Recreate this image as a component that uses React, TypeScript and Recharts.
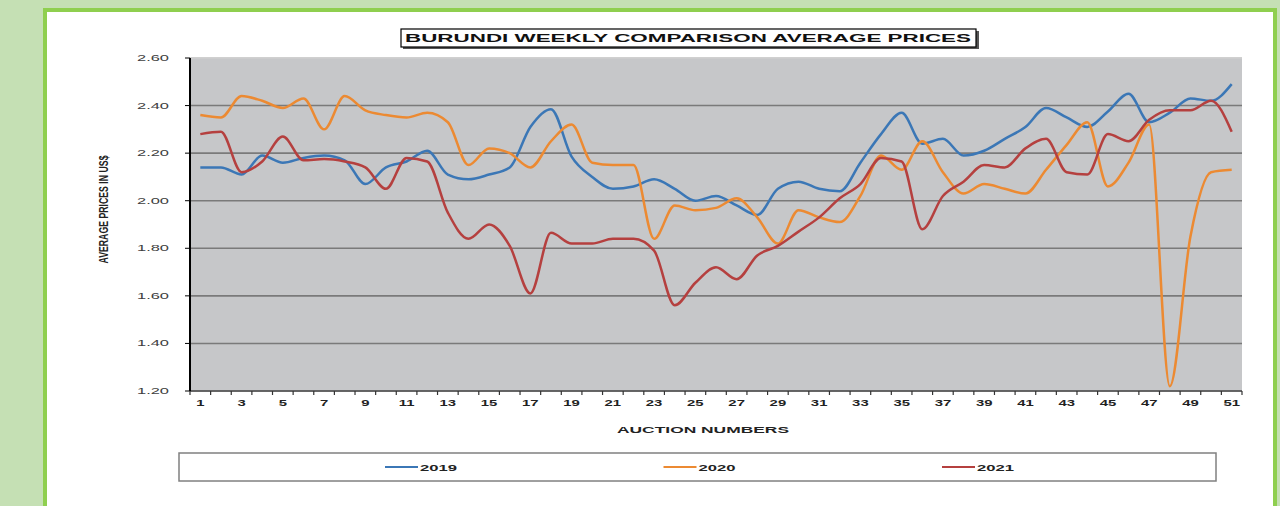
import { LineChart, Line, XAxis, YAxis, CartesianGrid, ReferenceLine } from 'recharts';

const AUCTIONS = [
  1, 2, 3, 4, 5, 6, 7, 8, 9, 10, 11, 12, 13, 14, 15, 16, 17, 18, 19, 20, 21, 22, 23, 24, 25, 26,
  27, 28, 29, 30, 31, 32, 33, 34, 35, 36, 37, 38, 39, 40, 41, 42, 43, 44, 45, 46, 47, 48, 49, 50, 51,
];

const PRICES_2019 = [
  2.14, 2.14, 2.11, 2.19, 2.16, 2.18, 2.19, 2.17, 2.07, 2.14, 2.165, 2.21, 2.11, 2.09, 2.11, 2.14, 2.31,
  2.385, 2.185, 2.1, 2.05, 2.06, 2.09, 2.05, 2.0, 2.02, 1.98, 1.94, 2.05, 2.08, 2.05, 2.04, 2.16, 2.28,
  2.37, 2.24, 2.26, 2.19, 2.21, 2.26, 2.31, 2.39, 2.35, 2.31, 2.375, 2.45, 2.33, 2.37, 2.43, 2.42, 2.49,
];

const PRICES_2020 = [
  2.36, 2.35, 2.44, 2.42, 2.39, 2.43, 2.3, 2.44, 2.38, 2.36, 2.35, 2.37, 2.33, 2.15, 2.22, 2.2, 2.14,
  2.25, 2.32, 2.16, 2.15, 2.15, 1.84, 1.98, 1.96, 1.97, 2.01, 1.93, 1.82, 1.96, 1.93, 1.91, 2.02, 2.19,
  2.13, 2.25, 2.12, 2.03, 2.07, 2.05, 2.03, 2.13, 2.235, 2.33, 2.06, 2.16, 2.32, 1.22, 1.85, 2.12, 2.13,
];

const PRICES_2021 = [
  2.28, 2.29, 2.12, 2.165, 2.27, 2.17, 2.175, 2.165, 2.14, 2.05, 2.18, 2.165, 1.95, 1.84, 1.9, 1.81, 1.61,
  1.865, 1.82, 1.82, 1.84, 1.84, 1.79, 1.56, 1.655, 1.72, 1.67, 1.77, 1.81, 1.87, 1.93, 2.01, 2.07, 2.18,
  2.165, 1.88, 2.02, 2.08, 2.15, 2.14, 2.22, 2.26, 2.12, 2.11, 2.28, 2.25, 2.34, 2.38, 2.38, 2.42, 2.29,
];

const Y_TICKS = [1.2, 1.4, 1.6, 1.8, 2.0, 2.2, 2.4, 2.6];

const SERIES = [
  { key: 'y2019', name: '2019', color: '#3b77b6' },
  { key: 'y2020', name: '2020', color: '#ec8a32' },
  { key: 'y2021', name: '2021', color: '#b5403f' },
];

const rows = AUCTIONS.map((n, i) => ({
  n,
  y2019: PRICES_2019[i],
  y2020: PRICES_2020[i],
  y2021: PRICES_2021[i],
}));

// labels on odd auctions, tick marks on the band edges
const X_TICKS = [...AUCTIONS.flatMap((n) => [n - 0.5, n]), AUCTIONS[AUCTIONS.length - 1] + 0.5];

const FONT = '"Liberation Sans", Arial, sans-serif';

function XTick(props: any) {
  const { x, y, payload } = props;
  const v = payload.value;
  if (!Number.isInteger(v)) {
    return <line x1={x} x2={x} y1={y} y2={y + 4} stroke="#333" strokeWidth={1.2} />;
  }
  if (v % 2 === 0) return <g />;
  return (
    <text
      transform={`translate(${x},${y + 14.5}) scale(1.75,1)`}
      textAnchor="middle"
      fontFamily={FONT}
      fontSize={8.5}
      fontWeight="bold"
      fill="#222"
    >
      {v}
    </text>
  );
}

function YTick(props: any) {
  const { x, y, payload } = props;
  return (
    <text
      x={x}
      y={y}
      dy="0.35em"
      textAnchor="end"
      fontFamily={FONT}
      fontSize={8.5}
      fill="#404040"
      textLength={32}
      lengthAdjust="spacingAndGlyphs"
    >
      {payload.value.toFixed(2)}
    </text>
  );
}

export default function App() {
  return (
    <div
      style={{
        position: 'fixed',
        left: 0,
        top: 0,
        width: 1280,
        height: 506,
        background: '#c5e0b4',
        overflow: 'hidden',
      }}
    >
      <div
        style={{
          position: 'absolute',
          left: 43,
          top: 8,
          width: 1234,
          height: 540,
          border: '4px solid #8fcf4f',
          background: '#fff',
          boxSizing: 'border-box',
        }}
      />
      <div style={{ position: 'absolute', left: 0, top: 0 }}>
        <LineChart width={1280} height={506} data={rows} margin={{ top: 58, right: 38, left: 0, bottom: 0 }}>
          <CartesianGrid vertical={false} fill="#c6c7c9" stroke="#7a7a7a" strokeWidth={1.6} />
          <ReferenceLine y={2.6} stroke="#e2e2e2" strokeWidth={1.5} />
          <XAxis
            dataKey="n"
            type="number"
            domain={[0.5, 51.5]}
            ticks={X_TICKS}
            interval={0}
            height={115}
            tickSize={0}
            tickMargin={0}
            tickLine={false}
            tick={XTick}
            axisLine={{ stroke: '#555', strokeWidth: 1.5 }}
            label={(p: any) => {
              const vb = p.viewBox;
              return (
                <text
                  x={vb.x + vb.width / 2 - 13}
                  y={vb.y + 42}
                  textAnchor="middle"
                  fontFamily={FONT}
                  fontSize={9.5}
                  fontWeight="bold"
                  fill="#222"
                  textLength={172}
                  lengthAdjust="spacingAndGlyphs"
                >
                  AUCTION NUMBERS
                </text>
              );
            }}
          />
          <YAxis
            type="number"
            width={190}
            domain={[1.2, 2.6]}
            ticks={Y_TICKS}
            interval={0}
            tickSize={5}
            tickMargin={16}
            tick={YTick}
            tickLine={{ stroke: '#000' }}
            axisLine={{ stroke: '#000', strokeWidth: 2 }}
            label={(p: any) => {
              const vb = p.viewBox;
              const cy = vb.y + vb.height / 2 - 15;
              return (
                <text
                  transform={`translate(108, ${cy}) rotate(-90)`}
                  textAnchor="middle"
                  fontFamily={FONT}
                  fontSize={12}
                  fontWeight="bold"
                  fill="#222"
                  textLength={108}
                  lengthAdjust="spacingAndGlyphs"
                >
                  AVERAGE PRICES IN US$
                </text>
              );
            }}
          />
          {SERIES.map((s) => (
            <Line
              key={s.key}
              type="monotone"
              dataKey={s.key}
              name={s.name}
              stroke={s.color}
              strokeWidth={2.5}
              dot={false}
              activeDot={false}
              isAnimationActive={false}
            />
          ))}
        </LineChart>
      </div>

      <svg style={{ position: 'absolute', left: 400, top: 28 }} width={582} height={24}>
        <rect x={3} y={3} width={576} height={18} fill="#555" />
        <rect x={1} y={1} width={575} height={18} fill="#fff" stroke="#000" strokeWidth={1.2} />
        <text
          x={288}
          y={14}
          textAnchor="middle"
          fontFamily={FONT}
          fontSize={11}
          fontWeight="bold"
          fill="#111"
          textLength={566}
          lengthAdjust="spacingAndGlyphs"
        >
          BURUNDI WEEKLY COMPARISON AVERAGE  PRICES
        </text>
      </svg>

      <svg style={{ position: 'absolute', left: 178, top: 452 }} width={1040} height={31}>
        <rect x={1} y={1} width={1037} height={28} fill="#fff" stroke="#808080" strokeWidth={1.5} />
        {SERIES.map((s, i) => {
          const lx = 207 + i * 278.5;
          return (
            <g key={s.key}>
              <line x1={lx} x2={lx + 33} y1={15} y2={15} stroke={s.color} strokeWidth={2} />
              <text
                x={lx + 35}
                y={18.5}
                fontFamily={FONT}
                fontSize={9.5}
                fontWeight="bold"
                fill="#222"
                textLength={37}
                lengthAdjust="spacingAndGlyphs"
              >
                {s.name}
              </text>
            </g>
          );
        })}
      </svg>
    </div>
  );
}
